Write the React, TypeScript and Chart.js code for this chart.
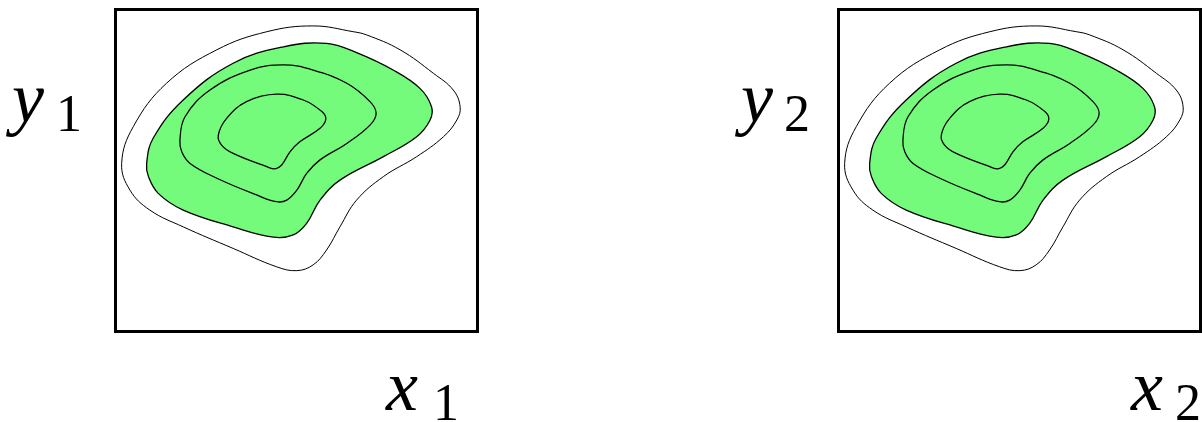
import React, { useEffect, useRef } from "react";
import { Chart, registerables } from "chart.js";

Chart.register(...registerables);

// Density contour levels, outermost first, as [x, y] vertices on a 0..10 grid.
const outerContour: [number, number][] = [
  [0.17, 5.22], [0.49, 6.36], [1.41, 7.71], [2.8, 8.75], [4.18, 9.31],
  [5.46, 9.49], [6.57, 9.31], [6.94, 9.21], [7.86, 8.75], [8.78, 8.02],
  [9.33, 7.5], [9.52, 6.98], [9.43, 6.57], [9.06, 6.05], [8.32, 5.43],
  [7.4, 4.81], [6.66, 4.08], [6.2, 3.25], [5.83, 2.53], [5.46, 2.07],
  [5.01, 1.89], [4.45, 2.01], [3.25, 2.58], [1.87, 3.25], [0.95, 3.77],
  [0.4, 4.39],
];

const highlightContour: [number, number][] = [
  [0.86, 5.22], [1.04, 6.0], [1.87, 7.19], [3.25, 8.33], [4.64, 8.84],
  [5.83, 8.95], [6.66, 8.66], [7.67, 8.12], [8.41, 7.55], [8.73, 6.98],
  [8.69, 6.57], [8.32, 6.05], [7.4, 5.43], [6.2, 4.7], [5.65, 4.08],
  [5.28, 3.36], [4.91, 3.0], [4.36, 2.93], [3.25, 3.25], [1.87, 3.77],
  [1.18, 4.29], [0.91, 4.81],
];

const middleContour: [number, number][] = [
  [1.78, 5.95], [1.92, 6.67], [2.61, 7.5], [3.72, 8.12], [4.64, 8.28],
  [5.46, 8.12], [6.39, 7.71], [7.03, 7.14], [7.2, 6.78], [7.03, 6.41],
  [6.39, 5.84], [5.65, 5.33], [5.28, 4.91], [5.01, 4.39], [4.73, 4.08],
  [4.45, 4.03], [3.9, 4.24], [2.8, 4.76], [2.06, 5.22], [1.83, 5.58],
];

const innerContour: [number, number][] = [
  [2.84, 6.1], [3.07, 6.62], [3.62, 7.14], [4.45, 7.37], [5.19, 7.19],
  [5.7, 6.83], [5.81, 6.59], [5.65, 6.31], [5.09, 5.89], [4.82, 5.58],
  [4.59, 5.17], [4.41, 5.05], [4.18, 5.12], [3.25, 5.53], [2.93, 5.79],
];

const panelNames = ["1", "2"];

const GREEN = "#75fb7b";
const FAMILY = '"Liberation Serif", "DejaVu Serif", serif';
const SYMBOL_FONT = `italic 72px ${FAMILY}`;
const SUB_FONT = `52px ${FAMILY}`;

// Wrap a closed ring so every vertex (including the seam) gets smooth
// neighbours for the spline: [last, ...ring, first, second].
function wrapRing(ring: [number, number][]) {
  const n = ring.length;
  const pts = [ring[n - 1], ...ring, ring[0], ring[1]];
  return pts.map(([x, y]) => ({ x, y }));
}

function contourLine(ring: [number, number][], width: number) {
  const n = ring.length;
  return {
    data: wrapRing(ring),
    showLine: true,
    borderColor: "#000",
    borderWidth: width,
    pointRadius: 0,
    tension: 0.4,
    fill: false,
    segment: {
      borderColor: (ctx: any) =>
        ctx.p0DataIndex === 0 || ctx.p0DataIndex === n + 1 ? "rgba(0,0,0,0)" : undefined,
    },
  };
}

function contourFill(ring: [number, number][]) {
  return {
    data: wrapRing(ring),
    showLine: true,
    borderWidth: 0,
    borderColor: "rgba(0,0,0,0)",
    backgroundColor: GREEN,
    pointRadius: 0,
    tension: 0.4,
    fill: "shape",
  };
}

type PanelLayout = {
  padding: { left: number; right: number; top: number; bottom: number };
  yLabel: [number, number, number, number];
  xLabel: [number, number, number, number];
};

const layouts: PanelLayout[] = [
  {
    padding: { left: 115.5, right: 123.5, top: 9.5, bottom: 90.5 },
    yLabel: [12, 122, 56, 131],
    xLabel: [386, 410, 433, 420],
  },
  {
    padding: { left: 237.5, right: 1.5, top: 9.5, bottom: 90.5 },
    yLabel: [140, 122, 183, 131],
    xLabel: [530, 410, 574, 420],
  },
];

function Panel({ index }: { index: number }) {
  const ref = useRef<HTMLCanvasElement | null>(null);
  useEffect(() => {
    if (!ref.current) return;
    const layout = layouts[index];
    const sub = panelNames[index];

    const frameAndLabels = {
      id: "frameAndLabels",
      afterDatasetsDraw(chart: any) {
        const { ctx, chartArea } = chart;
        ctx.save();
        ctx.strokeStyle = "#000";
        ctx.lineWidth = 3;
        ctx.strokeRect(
          chartArea.left,
          chartArea.top,
          chartArea.right - chartArea.left,
          chartArea.bottom - chartArea.top
        );
        ctx.fillStyle = "#000";
        ctx.textBaseline = "alphabetic";
        ctx.textAlign = "left";
        const drawLabel = (sym: string, pos: [number, number, number, number]) => {
          ctx.font = SYMBOL_FONT;
          ctx.fillText(sym, pos[0], pos[1]);
          ctx.font = SUB_FONT;
          ctx.fillText(sub, pos[2], pos[3]);
        };
        drawLabel("y", layout.yLabel);
        drawLabel("x", layout.xLabel);
        ctx.restore();
      },
    };

    const chart = new Chart(ref.current, {
      type: "scatter",
      data: {
        datasets: [
          contourLine(innerContour, 1.3),
          contourLine(middleContour, 1.3),
          contourLine(highlightContour, 1.3),
          contourLine(outerContour, 1),
          contourFill(highlightContour),
        ] as any,
      },
      options: {
        animation: false,
        responsive: false,
        maintainAspectRatio: false,
        events: [],
        layout: { padding: layout.padding },
        plugins: {
          legend: { display: false },
          tooltip: { enabled: false },
          title: { display: false },
        },
        scales: {
          x: { type: "linear", min: 0, max: 10, display: false },
          y: { type: "linear", min: 0, max: 10, display: false },
        },
      },
      plugins: [frameAndLabels],
    });

    let alive = true;
    const fonts = (document as any).fonts;
    if (fonts && fonts.load) {
      Promise.all([fonts.load(SYMBOL_FONT, "xy"), fonts.load(SUB_FONT, "12")])
        .then(() => {
          if (alive) chart.draw();
        })
        .catch(() => {});
    }
    return () => {
      alive = false;
      chart.destroy();
    };
  }, [index]);

  return (
    <canvas
      ref={ref}
      width={601}
      height={422}
      style={{ position: "absolute", left: index * 601, top: 0, width: 601, height: 422 }}
    />
  );
}

export default function App() {
  return (
    <div
      style={{
        position: "fixed",
        left: 0,
        top: 0,
        width: 1202,
        height: 422,
        background: "#fff",
        overflow: "hidden",
      }}
    >
      <Panel index={0} />
      <Panel index={1} />
    </div>
  );
}
